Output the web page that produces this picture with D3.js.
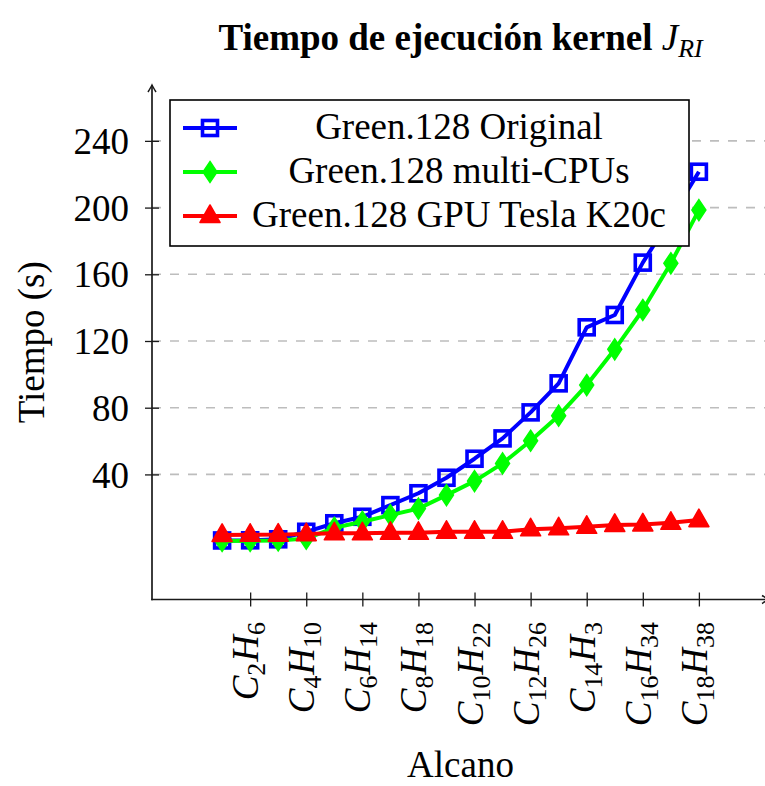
<!DOCTYPE html>
<html>
<head>
<meta charset="utf-8">
<script src="https://cdn.jsdelivr.net/npm/d3@7/dist/d3.min.js"></script>
<style>
  html, body { margin: 0; padding: 0; background: #fff; }
  svg { display: block; }
  text { font-family: "Liberation Serif", "Times New Roman", serif; fill: #000; }
</style>
</head>
<body>
<svg id="chart" width="765" height="786"></svg>
<script>
// ---- data ----
const carbons = [1, 2, 3, 4, 5, 6, 7, 8, 9, 10, 11, 12, 13, 14, 15, 16, 17, 18];
const original = [0.4, 0.5, 1.1, 5.6, 10.7, 14.6, 21.6, 28.7, 38, 49.4, 61.6, 77.2, 94.6, 128.2, 135.6, 167, 193.6, 221.5];
const multiCPU = [0.1, 0.2, 0.4, 1.5, 8, 11.6, 15.6, 19.5, 27.6, 36, 46.6, 60.2, 75.2, 93.6, 115, 138.6, 166.6, 198.5];
const gpuK20c  = [3.7, 3.8, 3.9, 4.2, 4.7, 4.7, 5, 5, 5.6, 5.6, 5.6, 7.1, 7.7, 8.6, 9.7, 10, 11, 12.6];
const seriesNames = ["Green.128 Original", "Green.128 multi-CPUs", "Green.128 GPU Tesla K20c"];
const tickPositions = [2, 4, 6, 8, 10, 12, 14, 16, 18];
const tickCarbon = ["2", "4", "6", "8", "10", "12", "14", "16", "18"];
const tickHydrogen = ["6", "10", "14", "18", "22", "26", "3", "34", "38"];
const yTicks = [40, 80, 120, 160, 200, 240];

// ---- layout ----
const svg = d3.select("#chart");
const FS = 37;
const x = d3.scaleLinear().domain([-1.5, 20.5]).range([152, 769]);
const y = d3.scaleLinear().domain([-35, 273.5]).range([599.5, 85]);
const x0 = x.range()[0], x1 = x.range()[1];
const yb = y.range()[0], yt = y.range()[1];

// grid
svg.append("g").selectAll("line").data(yTicks).join("line")
  .attr("x1", x0).attr("x2", x1 + 10)
  .attr("y1", d => y(d)).attr("y2", d => y(d))
  .attr("stroke", "#bdbdbd").attr("stroke-width", 1.6)
  .attr("stroke-dasharray", "9,9");

// axes
const axisColor = "#1a1a1a";
const yAxis = d3.axisLeft(y).tickValues(yTicks).tickSize(0).tickFormat(d3.format("d"));
const gy = svg.append("g").attr("transform", `translate(${x0},0)`).call(yAxis);
gy.select(".domain").remove();
gy.selectAll(".tick text").attr("x", -23).attr("dy", "0.34em")
  .style("font-size", FS + "px").style("font-family", "'Liberation Serif', serif").attr("fill", "#000");
gy.selectAll(".tick").append("line").attr("x1", -7).attr("x2", 7)
  .attr("stroke", axisColor).attr("stroke-width", 1.3);

const xAxis = d3.axisBottom(x).tickValues(tickPositions).tickSize(0).tickFormat("");
const gx = svg.append("g").attr("transform", `translate(0,${yb})`).call(xAxis);
gx.select(".domain").remove();
gx.selectAll(".tick").append("line").attr("y1", -7).attr("y2", 7)
  .attr("stroke", axisColor).attr("stroke-width", 1.3);

// axis lines with arrows
svg.append("line").attr("x1", x0).attr("x2", x0).attr("y1", yb + 0.8).attr("y2", yt)
  .attr("stroke", axisColor).attr("stroke-width", 1.7);
svg.append("line").attr("x1", x0 - 0.8).attr("x2", x1).attr("y1", yb).attr("y2", yb)
  .attr("stroke", axisColor).attr("stroke-width", 1.7);
svg.append("path").attr("d", `M${x0 - 4},${yt + 7} Q${x0 - 1},${yt + 2} ${x0},${yt} Q${x0 + 1},${yt + 2} ${x0 + 4},${yt + 7}`)
  .attr("fill", "none").attr("stroke", axisColor).attr("stroke-width", 1.5);
svg.append("path").attr("d", `M${x1 - 7},${yb - 4} Q${x1 - 2},${yb - 1} ${x1},${yb} Q${x1 - 2},${yb + 1} ${x1 - 7},${yb + 4}`)
  .attr("fill", "none").attr("stroke", axisColor).attr("stroke-width", 1.5);

// x tick labels (rotated, C_nH_m with math italic letters)
const xl = svg.append("g").selectAll("text").data(tickPositions).join("text")
  .attr("transform", d => `translate(${x(d)},622) rotate(-90)`)
  .attr("text-anchor", "end")
  .attr("y", 8)
  .style("font-size", FS + "px");
xl.each(function(d, i) {
  const t = d3.select(this);
  t.append("tspan").text("C").style("font-style", "italic");
  t.append("tspan").text(tickCarbon[i]).style("font-size", (FS * 0.7) + "px").attr("dy", 7);
  t.append("tspan").text("H").style("font-style", "italic").attr("dy", -7).attr("dx", 1);
  t.append("tspan").text(tickHydrogen[i]).style("font-size", (FS * 0.7) + "px").attr("dy", 7);
});

// axis labels
svg.append("text").attr("x", (x0 + x1) / 2).attr("y", 777).attr("text-anchor", "middle")
  .style("font-size", FS + "px").text("Alcano");
svg.append("text").attr("transform", `translate(44,${(yb + yt) / 2}) rotate(-90)`)
  .attr("text-anchor", "middle").style("font-size", FS + "px").text("Tiempo (s)");

// title
const title = svg.append("text").attr("x", (x0 + x1) / 2).attr("y", 50).attr("text-anchor", "middle")
  .style("font-size", FS + "px").style("font-weight", "bold");
title.append("tspan").text("Tiempo de ejecución kernel ");
title.append("tspan").text("J").style("font-style", "italic").style("font-weight", "normal");
title.append("tspan").text("RI").style("font-style", "italic").style("font-weight", "normal")
  .style("font-size", (FS * 0.7) + "px").attr("dy", 7);

// ---- series ----
const seriesData = [original, multiCPU, gpuK20c];
const colors = ["#0000ff", "#00ff00", "#ff0000"];
const line = d3.line().x((d, i) => x(carbons[i])).y(d => y(d));

function drawMarker(g, kind, color) {
  if (kind === 0) {
    g.append("rect").attr("x", -7.5).attr("y", -7.5).attr("width", 15).attr("height", 15)
      .attr("fill", "none").attr("stroke", color).attr("stroke-width", 3.6);
  } else if (kind === 1) {
    g.append("path").attr("d", "M0,-10.5 L7,0 L0,10.5 L-7,0 Z")
      .attr("fill", color).attr("stroke", color).attr("stroke-width", 1.5);
  } else {
    g.append("path").attr("d", "M0,-11 L10,6.5 L-10,6.5 Z")
      .attr("fill", color).attr("stroke", color).attr("stroke-width", 1.6).attr("stroke-linejoin", "round");
  }
}

seriesData.forEach((vals, k) => {
  const g = svg.append("g");
  g.append("path").datum(vals).attr("d", line)
    .attr("fill", "none").attr("stroke", colors[k]).attr("stroke-width", 4)
    .attr("stroke-linejoin", "round");
  vals.forEach((v, i) => {
    const m = g.append("g").attr("transform", `translate(${x(carbons[i])},${y(v)})`);
    drawMarker(m, k, colors[k]);
  });
});

// ---- legend ----
const lg = svg.append("g");
lg.append("rect").attr("x", 170).attr("y", 100).attr("width", 519).attr("height", 146)
  .attr("fill", "#fff").attr("stroke", "#000").attr("stroke-width", 1.6);
seriesNames.forEach((name, k) => {
  const cy = 128 + k * 44;
  lg.append("line").attr("x1", 183).attr("x2", 237).attr("y1", cy).attr("y2", cy)
    .attr("stroke", colors[k]).attr("stroke-width", 4);
  const m = lg.append("g").attr("transform", `translate(210,${cy})`);
  drawMarker(m, k, colors[k]);
  lg.append("text").attr("x", 459).attr("y", cy + 11).attr("text-anchor", "middle")
    .style("font-size", FS + "px").text(name);
});
</script>
</body>
</html>
